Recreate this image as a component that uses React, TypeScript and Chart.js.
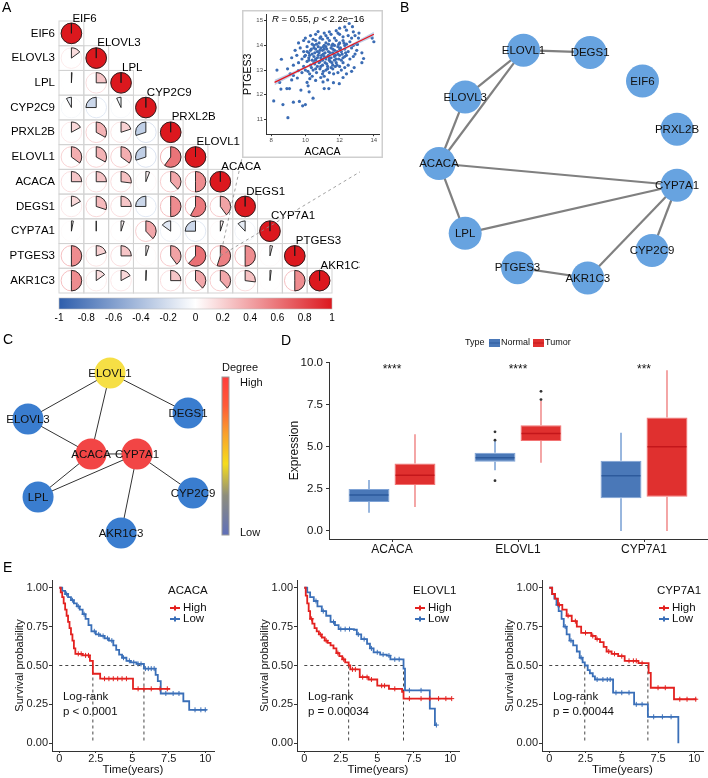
import React, { useEffect, useRef } from "react";
import { Chart, registerables } from "chart.js";

Chart.register(...registerables);
const FONT = '"Liberation Sans", Arial, Helvetica, sans-serif';
Chart.defaults.font.family = FONT;
Chart.defaults.color = "#000";

/* ================= Panel A : correlation pies ================= */
const corrGenes = ["EIF6", "ELOVL3", "LPL", "CYP2C9", "PRXL2B", "ELOVL1", "ACACA", "DEGS1", "CYP7A1", "PTGES3", "AKR1C3"];
const corrRows: number[][] = [
  [1],
  [0.15, 1],
  [0.01, 0.25, 1],
  [-0.08, -0.25, -0.07, 1],
  [0.17, 0.33, 0.2, -0.3, 1],
  [0.35, 0.33, 0.35, -0.3, 0.6, 1],
  [0.25, 0.25, 0.27, 0.06, 0.38, 0.5, 1],
  [0.17, 0.3, 0.25, -0.25, 0.5, 0.58, 0.4, 1],
  [0.03, 0.0, 0.05, 0.38, -0.15, -0.25, 0.05, -0.12, 1],
  [0.5, 0.2, 0.25, 0.05, 0.4, 0.62, 0.55, 0.5, 0.04, 1],
  [0.5, 0.15, 0.17, 0.01, 0.25, 0.38, 0.38, 0.27, 0.02, 0.5, 1],
];
const colorbarTicks = [-1, -0.8, -0.6, -0.4, -0.2, 0, 0.2, 0.4, 0.6, 0.8, 1];
const insetCell = [6, 9]; // ACACA column, PTGES3 row

/* inset scatter ACACA vs PTGES3 */
const scatterPoints: [number, number][] = [
  [11.4, 14.55], [11.8, 14.6], [12.0, 14.7], [12.3, 14.75], [12.56, 14.89], [12.75, 14.76], [12.4, 14.62], [11.1, 14.5], [12.8, 14.55], [10.74, 14.56],
  [10.3, 14.4], [10.6, 14.45], [10.9, 14.35], [11.2, 14.4], [11.5, 14.45], [11.7, 14.3], [12.0, 14.45], [12.2, 14.35], [12.5, 14.4], [12.7, 14.3], [10.0, 14.3], [11.3, 14.3], [11.9, 14.5], [12.9, 14.4], [13.1, 14.3], [13.13, 14.5],
  [9.6, 14.1], [9.9, 14.2], [10.2, 14.15], [10.4, 14.05], [10.6, 14.2], [10.8, 14.1], [11.0, 14.25], [11.2, 14.1], [11.4, 14.2], [11.6, 14.05], [11.8, 14.2], [12.0, 14.1], [12.2, 14.2], [12.4, 14.05], [12.6, 14.15], [12.8, 14.0], [13.0, 14.05], [10.5, 14.0], [11.1, 14.0], [11.7, 14.0], [12.3, 14.0], [14.0, 14.15], [13.9, 14.3], [13.04, 14.04],
  [9.4, 13.8], [9.7, 13.9], [9.9, 13.75], [10.1, 13.95], [10.3, 13.8], [10.5, 13.9], [10.7, 13.75], [10.9, 13.9], [11.0, 13.8], [11.2, 13.95], [11.35, 13.75], [11.5, 13.9], [11.7, 13.8], [11.9, 13.95], [12.1, 13.75], [12.3, 13.85], [12.5, 13.75], [12.7, 13.9], [13.0, 13.8], [13.3, 13.7], [10.2, 13.7], [10.8, 13.7], [11.6, 13.7], [12.0, 13.85], [11.1, 13.85], [10.6, 13.85], [12.9, 13.65],
  [9.2, 13.5], [9.5, 13.6], [9.8, 13.45], [10.0, 13.6], [10.2, 13.5], [10.4, 13.65], [10.6, 13.45], [10.75, 13.6], [10.9, 13.5], [11.05, 13.65], [11.2, 13.45], [11.35, 13.6], [11.5, 13.5], [11.65, 13.65], [11.8, 13.45], [12.0, 13.6], [12.2, 13.5], [12.4, 13.6], [12.6, 13.45], [12.8, 13.55], [13.4, 13.47], [8.6, 13.44], [10.5, 13.55], [11.0, 13.4], [11.4, 13.4], [11.9, 13.65],
  [9.3, 13.2], [9.6, 13.3], [9.9, 13.15], [10.1, 13.35], [10.3, 13.2], [10.5, 13.3], [10.7, 13.15], [10.85, 13.35], [11.0, 13.2], [11.15, 13.3], [11.3, 13.15], [11.45, 13.35], [11.6, 13.2], [11.8, 13.3], [12.0, 13.15], [12.2, 13.3], [12.5, 13.2], [12.85, 13.1], [13.3, 13.3], [8.34, 13.0], [8.96, 13.05], [10.6, 13.4], [11.7, 13.4], [10.2, 13.4],
  [9.11, 12.85], [9.3, 12.78], [9.59, 12.98], [9.8, 12.9], [10.0, 13.0], [10.25, 12.85], [10.45, 13.0], [10.65, 12.9], [10.85, 13.05], [11.0, 12.85], [11.2, 13.0], [11.4, 12.9], [11.6, 13.05], [11.9, 12.9], [12.1, 13.0], [12.4, 12.85], [9.53, 12.68], [10.4, 12.75], [11.1, 12.75], [12.7, 12.95],
  [8.5, 12.5], [9.2, 12.6], [10.26, 12.65], [10.6, 12.58], [10.9, 12.7], [11.03, 12.52], [11.64, 12.49], [11.98, 12.45], [10.1, 12.5], [11.3, 12.6], [12.2, 12.7],
  [8.57, 12.23], [8.92, 12.25], [9.07, 12.25], [9.74, 12.19], [10.16, 12.36], [10.22, 12.12], [10.45, 11.86], [11.1, 12.25], [11.37, 12.25],
  [8.15, 11.75], [8.69, 11.6], [8.98, 11.07], [9.3, 11.7], [9.84, 11.55], [10.0, 11.6], [9.65, 11.73],
  [10.35, 13.85], [10.55, 13.7], [10.65, 14.05], [10.75, 13.95], [10.85, 13.8], [10.95, 13.6], [11.05, 13.95], [11.15, 13.7], [11.25, 13.85], [11.3, 13.55], [11.45, 13.7], [11.55, 14.0], [11.6, 13.85], [11.75, 13.6], [11.85, 13.75], [11.95, 14.05], [12.05, 13.9], [12.15, 13.65], [12.25, 14.1], [12.35, 13.7],
  [10.4, 13.4], [10.55, 13.25], [10.7, 13.5], [10.8, 13.3], [10.95, 13.45], [11.1, 13.55], [11.25, 13.25], [11.4, 13.5], [11.55, 13.3], [11.7, 13.55], [11.85, 13.2], [11.95, 13.45], [12.1, 13.4], [12.3, 13.55], [10.25, 13.6], [10.1, 13.75], [9.95, 13.55], [10.45, 14.25], [10.85, 14.3], [11.35, 14.05],
  [10.6, 13.05], [10.9, 13.15], [11.3, 13.05], [11.5, 13.1], [11.75, 13.15], [10.35, 13.1], [10.15, 12.95], [11.05, 12.95], [11.65, 12.85], [12.3, 13.1],
];
const fitX = [8.2, 14.0];
const fitY = [12.5, 14.45];
const bandX = [8.2, 9.6, 11.0, 12.5, 14.0];
const bandUpperY = [12.61, 13.03, 13.475, 13.99, 14.55];
const bandLowerY = [12.39, 12.91, 13.405, 13.89, 14.35];
const insetXTicks = [8, 10, 12, 14];
const insetYTicks = [11, 12, 13, 14, 15];

/* ================= Panel B : network ================= */
const netBNames = ["ELOVL1", "DEGS1", "EIF6", "PRXL2B", "CYP7A1", "CYP2C9", "AKR1C3", "PTGES3", "LPL", "ACACA", "ELOVL3"];
const netBX = [-0.29, 0.27, 0.71, 1.0, 1.0, 0.79, 0.25, -0.34, -0.78, -1.0, -0.78];
const netBY = [0.99, 0.97, 0.72, 0.3, -0.19, -0.76, -1.0, -0.91, -0.61, 0.0, 0.58];
const netBEdges: [string, string][] = [
  ["ELOVL1", "DEGS1"], ["ELOVL1", "ELOVL3"], ["ELOVL1", "ACACA"], ["ELOVL3", "ACACA"], ["ACACA", "LPL"],
  ["ACACA", "CYP7A1"], ["LPL", "CYP7A1"], ["CYP7A1", "CYP2C9"], ["CYP7A1", "AKR1C3"], ["PTGES3", "AKR1C3"],
];

/* ================= Panel C : hub network ================= */
const netCNames = ["ELOVL1", "ELOVL3", "DEGS1", "ACACA", "CYP7A1", "LPL", "CYP2C9", "AKR1C3"];
const netCX = [49.7, 0, 97, 38.2, 66.1, 6.1, 100, 56.4];
const netCY = [100, 71.25, 75, 49.4, 49.4, 22.5, 25, 0];
const netCColors = ["#f6df45", "#3a7dcf", "#3a7dcf", "#f24545", "#f24545", "#3a7dcf", "#3a7dcf", "#3a7dcf"];
const netCEdges: [string, string][] = [
  ["ELOVL1", "ELOVL3"], ["ELOVL1", "DEGS1"], ["ELOVL1", "ACACA"], ["ELOVL3", "ACACA"], ["ACACA", "CYP7A1"],
  ["ACACA", "LPL"], ["CYP7A1", "LPL"], ["CYP7A1", "CYP2C9"], ["CYP7A1", "AKR1C3"],
];

/* ================= Panel D : boxplot ================= */
const boxGenes = ["ACACA", "ELOVL1", "CYP7A1"];
const normalMin = [1.07, 3.6, 0.0];
const normalQ1 = [1.72, 4.1, 1.93];
const normalMed = [2.13, 4.34, 3.27];
const normalQ3 = [2.48, 4.63, 4.16];
const normalMax = [3.02, 5.38, 5.82];
const normalOutliers = [[], [5.88, 5.38, 2.98], []];
const tumorMin = [1.42, 4.04, 0.0];
const tumorQ1 = [2.72, 5.34, 2.03];
const tumorMed = [3.3, 5.78, 4.99];
const tumorQ3 = [4.0, 6.27, 6.73];
const tumorMax = [5.74, 7.71, 9.53];
const tumorOutliers = [[], [8.28, 7.79], []];
const signifLabels = ["****", "****", "***"];
const exprTicks = [0, 2.5, 5, 7.5, 10];

/* ================= Panel E : Kaplan-Meier ================= */
const kmGenes = ["ACACA", "ELOVL1", "CYP7A1"];
const kmPValues = ["p < 0.0001", "p = 0.00034", "p = 0.00044"];
const timeTicks = [0, 2.5, 5, 7.5, 10];
const survTicks = [0, 0.25, 0.5, 0.75, 1];

const acacaHighT = [0, 0.1, 0.2, 0.3, 0.4, 0.5, 0.6, 0.7, 0.8, 0.9, 1.0, 1.1, 1.6, 2.1, 2.3, 2.8, 5.05, 7.6];
const acacaHighS = [1, 0.97, 0.94, 0.9, 0.86, 0.82, 0.78, 0.74, 0.7, 0.66, 0.61, 0.575, 0.565, 0.53, 0.447, 0.415, 0.35, 0.35];
const acacaLowT = [0, 0.2, 0.4, 0.6, 0.8, 1.0, 1.2, 1.4, 1.6, 1.8, 2.0, 2.2, 2.5, 2.8, 3.1, 3.4, 3.7, 3.9, 4.1, 4.3, 4.6, 4.9, 5.3, 5.8, 6.6, 6.75, 6.95, 8.5, 8.9, 10.1];
const acacaLowS = [1, 0.98, 0.96, 0.94, 0.92, 0.9, 0.88, 0.86, 0.83, 0.8, 0.76, 0.72, 0.7, 0.69, 0.675, 0.66, 0.63, 0.6, 0.57, 0.55, 0.53, 0.52, 0.51, 0.48, 0.44, 0.4, 0.32, 0.27, 0.215, 0.215];
const acacaHighCens = [1.3, 1.5, 1.8, 2.0, 3.1, 3.4, 3.7, 4.0, 4.3, 4.6, 5.4, 5.8, 6.3, 6.9, 7.4];
const acacaLowCens = [0.5, 0.9, 1.3, 1.7, 2.4, 2.7, 3.0, 3.3, 3.6, 4.4, 4.8, 5.1, 5.4, 5.6, 5.9, 6.1, 6.3, 6.5, 7.3, 7.8, 8.2, 9.3, 9.7, 10.0];

const elovl1HighT = [0, 0.1, 0.2, 0.3, 0.4, 0.55, 0.7, 0.85, 1.0, 1.2, 1.4, 1.6, 1.8, 2.0, 2.2, 2.4, 2.6, 2.8, 3.04, 3.15, 3.8, 4.4, 5.0, 5.8, 6.7, 6.8, 10.1];
const elovl1HighS = [1, 0.95, 0.9, 0.85, 0.8, 0.77, 0.74, 0.72, 0.7, 0.68, 0.66, 0.645, 0.63, 0.61, 0.58, 0.56, 0.54, 0.52, 0.5, 0.475, 0.425, 0.41, 0.37, 0.35, 0.33, 0.287, 0.287];
const elovl1LowT = [0, 0.2, 0.4, 0.65, 0.9, 1.2, 1.5, 1.8, 2.1, 2.35, 3.4, 3.6, 3.9, 4.3, 4.5, 4.75, 5.2, 5.65, 5.9, 6.8, 6.9, 8.6, 8.95, 9.05];
const elovl1LowS = [1, 0.97, 0.94, 0.915, 0.88, 0.85, 0.82, 0.78, 0.76, 0.734, 0.73, 0.7, 0.67, 0.64, 0.61, 0.585, 0.57, 0.564, 0.54, 0.48, 0.34, 0.223, 0.117, 0.117];
const elovl1HighCens = [0.5, 1.1, 1.5, 2.3, 2.7, 3.3, 3.5, 4.0, 4.3, 4.6, 5.3, 5.5, 6.2, 7.2, 8.0, 8.6, 9.2, 9.7, 10.1];
const elovl1LowCens = [0.8, 1.3, 2.0, 2.5, 2.8, 3.1, 3.7, 4.1, 4.6, 5.0, 5.4, 5.8, 6.2, 6.5, 7.2, 8.0, 9.05];

const cypHighT = [0, 0.2, 0.4, 0.6, 0.9, 1.2, 1.55, 1.9, 2.2, 2.9, 3.2, 3.5, 3.75, 3.95, 4.3, 4.75, 5.2, 6.15, 6.85, 7.0, 8.6, 10.15];
const cypHighS = [1, 0.96, 0.93, 0.89, 0.86, 0.82, 0.785, 0.75, 0.71, 0.69, 0.67, 0.65, 0.62, 0.59, 0.575, 0.56, 0.53, 0.515, 0.453, 0.357, 0.283, 0.283];
const cypLowT = [0, 0.2, 0.35, 0.5, 0.65, 0.85, 1.0, 1.2, 1.4, 1.65, 1.9, 2.1, 2.3, 2.45, 2.65, 2.8, 3.0, 3.15, 4.4, 5.85, 6.8, 8.9];
const cypLowS = [1, 0.96, 0.93, 0.89, 0.85, 0.8, 0.75, 0.7, 0.66, 0.63, 0.59, 0.55, 0.52, 0.5, 0.47, 0.45, 0.43, 0.41, 0.325, 0.25, 0.17, 0];
const cypHighCens = [0.7, 1.3, 1.8, 2.5, 3.0, 3.3, 4.1, 4.5, 5.0, 5.5, 5.8, 6.0, 6.4, 7.5, 8.0, 9.0, 9.5, 10.1];
const cypLowCens = [0.6, 1.1, 1.5, 2.2, 3.3, 3.7, 4.0, 4.2, 4.6, 5.0, 5.5, 6.0, 6.4, 7.2, 7.8, 8.4];

const kmMedianHigh = [2.3, 3.04, 6.8];
const kmMedianLow = [5.8, 6.8, 2.45];

/* ================= helpers ================= */
const RED = "#e3211f";
const BLUE = "#3a6fb8";
const common: any = {
  responsive: false,
  animation: false,
  devicePixelRatio: 1,
  events: [],
  plugins: { legend: { display: false }, tooltip: { enabled: false } },
};
const pts = (xs: number[], ys: number[]) => xs.map((x, i) => ({ x, y: ys[i] }));
const stepAt = (T: number[], S: number[], t: number) => {
  let s = S[0];
  for (let i = 0; i < T.length; i++) if (T[i] <= t) s = S[i];
  return s;
};
const fixedTicks = (vals: number[]) => (s: any) => {
  s.ticks = vals.map((v) => ({ value: v }));
};

function corrColor(v: number) {
  const t = Math.min(1, Math.abs(v));
  const end = v >= 0 ? [220, 24, 30] : [46, 94, 172];
  const c = end.map((e) => Math.round(255 + (e - 255) * t));
  return `rgb(${c[0]},${c[1]},${c[2]})`;
}

const INSET = { left: 242, top: 10, w: 141, h: 148 };

function makeMatrix(): any {
  const cells: any[] = [];
  corrRows.forEach((row, i) => row.forEach((v, j) => cells.push({ x: j + 0.5, y: i + 0.5, v })));
  const plugin = {
    id: "corrPies",
    afterDatasetsDraw(chart: any) {
      const { ctx, scales, chartArea } = chart;
      const xs = scales.x, ys = scales.y;
      ctx.save();
      ctx.strokeStyle = "#d3d3d3";
      ctx.lineWidth = 1;
      corrRows.forEach((row, i) =>
        row.forEach((_, j) => {
          const x0 = xs.getPixelForValue(j), x1 = xs.getPixelForValue(j + 1);
          const y0 = ys.getPixelForValue(i), y1 = ys.getPixelForValue(i + 1);
          ctx.strokeRect(x0, y0, x1 - x0, y1 - y0);
        })
      );
      const cw = xs.getPixelForValue(1) - xs.getPixelForValue(0);
      const R = cw * 0.415;
      const meta = chart.getDatasetMeta(0);
      meta.data.forEach((el: any, k: number) => {
        const v = cells[k].v;
        const cx = el.x, cy = el.y;
        ctx.beginPath();
        ctx.arc(cx, cy, R, 0, Math.PI * 2);
        ctx.strokeStyle = corrColor(v * 0.55);
        ctx.lineWidth = 1;
        ctx.stroke();
        const start = -Math.PI / 2;
        const end = start + 2 * Math.PI * v;
        ctx.beginPath();
        ctx.moveTo(cx, cy);
        ctx.lineTo(cx, cy - R);
        ctx.arc(cx, cy, R, start, end, v < 0);
        ctx.closePath();
        ctx.fillStyle = corrColor(v);
        ctx.fill();
        ctx.strokeStyle = "#1a1a1a";
        ctx.lineWidth = 0.9;
        ctx.stroke();
      });
      // diagonal labels
      ctx.fillStyle = "#000";
      ctx.font = `11.5px ${FONT}`;
      ctx.textAlign = "left";
      ctx.textBaseline = "alphabetic";
      corrGenes.forEach((g, i) => {
        ctx.fillText(g, xs.getPixelForValue(i + 0.5) + 1, ys.getPixelForValue(i) + 0.5);
      });
      // colour bar
      const cbTop = chartArea.bottom + 5, cbH = 11;
      const grad = ctx.createLinearGradient(chartArea.left, 0, chartArea.right, 0);
      grad.addColorStop(0, corrColor(-1));
      grad.addColorStop(0.25, corrColor(-0.5));
      grad.addColorStop(0.5, "#ffffff");
      grad.addColorStop(0.75, corrColor(0.5));
      grad.addColorStop(1, corrColor(1));
      ctx.fillStyle = grad;
      ctx.fillRect(chartArea.left, cbTop, chartArea.right - chartArea.left, cbH);
      ctx.strokeStyle = "#bdbdbd";
      ctx.lineWidth = 0.6;
      ctx.strokeRect(chartArea.left, cbTop, chartArea.right - chartArea.left, cbH);
      ctx.fillStyle = "#000";
      ctx.font = `10px ${FONT}`;
      ctx.textAlign = "center";
      ctx.textBaseline = "middle";
      colorbarTicks.forEach((t) => {
        const px = chartArea.left + ((t + 1) / 2) * (chartArea.right - chartArea.left);
        ctx.fillText(String(t), px, cbTop + cbH + 9);
      });
      // dashed connectors to inset
      const cx = xs.getPixelForValue(insetCell[0] + 0.5), cy = ys.getPixelForValue(insetCell[1] + 0.5);
      ctx.strokeStyle = "#8a8a8a";
      ctx.lineWidth = 0.8;
      ctx.setLineDash([3, 3]);
      ctx.beginPath();
      ctx.moveTo(cx, cy);
      ctx.lineTo(INSET.left, INSET.top + INSET.h);
      ctx.moveTo(cx, cy);
      ctx.lineTo(INSET.left + INSET.w, INSET.top + INSET.h);
      ctx.stroke();
      ctx.restore();
    },
  };
  return {
    type: "scatter",
    data: { datasets: [{ data: cells, pointRadius: 0 }] },
    options: {
      ...common,
      layout: { padding: { left: 0, right: 28, top: 21, bottom: 37 } },
      scales: {
        x: { type: "linear", min: 0, max: 11, display: false },
        y: {
          type: "linear", min: 0, max: 11, reverse: true,
          grid: { display: false, drawTicks: false },
          border: { display: false },
          afterBuildTicks: (s: any) => { s.ticks = corrGenes.map((_, i) => ({ value: i + 0.5 })); },
          afterFit: (s: any) => { s.width = 59; },
          ticks: { autoSkip: false, padding: 4, font: { size: 11.5 }, color: "#000", callback: (v: any) => corrGenes[Math.round(Number(v) - 0.5)] },
        },
      },
    },
    plugins: [plugin],
  };
}

function makeInset(): any {
  const plugin = {
    id: "insetDeco",
    beforeDraw(chart: any) {
      const { ctx, width, height } = chart;
      ctx.save();
      ctx.fillStyle = "#fff";
      ctx.fillRect(0, 0, width, height);
      ctx.strokeStyle = "#cfcfcf";
      ctx.lineWidth = 1.5;
      ctx.strokeRect(0.75, 0.75, width - 1.5, height - 1.5);
      ctx.restore();
    },
    afterDraw(chart: any) {
      const { ctx } = chart;
      ctx.save();
      ctx.fillStyle = "#000";
      ctx.textBaseline = "middle";
      let x0 = 30;
      const parts: [string, boolean][] = [["R", true], [" = 0.55, ", false], ["p", true], [" < 2.2e\u221216", false]];
      parts.forEach(([t, it]) => {
        ctx.font = `${it ? "italic " : ""}9.5px ${FONT}`;
        ctx.fillText(t, x0, 9);
        x0 += ctx.measureText(t).width;
      });
      ctx.restore();
    },
  };
  const axis = (min: number, max: number, ticks: number[], title: string, extra: any = {}) => ({
    type: "linear", min, max,
    afterBuildTicks: fixedTicks(ticks),
    grid: { display: true, drawOnChartArea: false, tickLength: 2, color: "#333" },
    border: { color: "#333", width: 1 },
    ticks: { font: { size: 6 }, color: "#4d4d4d", padding: 1, callback: (v: any) => String(v) },
    title: { display: true, text: title, font: { size: 10.5 }, padding: 0, color: "#000" },
    ...extra,
  });
  return {
    type: "scatter",
    data: {
      datasets: [
        { type: "line", data: pts(fitX, fitY), borderColor: "#e8131b", borderWidth: 1.2, pointRadius: 0, order: 0 },
        { type: "line", data: pts(bandX, bandUpperY), borderWidth: 0, borderColor: "rgba(0,0,0,0)", pointRadius: 0, fill: false, order: 1 },
        { type: "line", data: pts(bandX, bandLowerY), borderWidth: 0, borderColor: "rgba(0,0,0,0)", pointRadius: 0, fill: "-1", backgroundColor: "rgba(140,165,210,0.55)", order: 1 },
        { data: scatterPoints.map(([x, y]) => ({ x, y })), pointRadius: 1.6, backgroundColor: "#3b6cb4", borderWidth: 0, order: 2 },
      ],
    },
    options: {
      ...common,
      layout: { padding: { left: 0, right: 3, top: 4, bottom: 0 } },
      scales: {
        x: axis(7.7, 14.3, insetXTicks, "ACACA"),
        y: axis(10.4, 15.25, insetYTicks, "PTGES3", { afterFit: (s: any) => { s.width = 24; } }),
      },
    },
    plugins: [plugin],
  };
}

function makeNetwork(names: string[], xs: number[], ys: number[], edges: [string, string][], colors: any, radius: number,
  edgeColor: string, edgeWidth: number, fontSize: number, range: [number, number], padding: any, extra?: any): any {
  const node = (n: string) => { const i = names.indexOf(n); return { x: xs[i], y: ys[i] }; };
  const labelPlugin = {
    id: "nodeLabels",
    afterDatasetsDraw(chart: any) {
      const { ctx } = chart;
      const meta = chart.getDatasetMeta(0);
      ctx.save();
      ctx.fillStyle = "#111";
      ctx.font = `${fontSize}px ${FONT}`;
      ctx.textAlign = "center";
      ctx.textBaseline = "middle";
      meta.data.forEach((el: any, i: number) => ctx.fillText(names[i], el.x, el.y + 0.5));
      ctx.restore();
    },
  };
  return {
    type: "scatter",
    data: {
      datasets: [
        { data: names.map((n) => node(n)), pointRadius: radius, backgroundColor: colors, borderWidth: 0, order: 0, clip: false },
        ...edges.map(([a, b]) => ({
          type: "line", data: [node(a), node(b)], borderColor: edgeColor, borderWidth: edgeWidth, pointRadius: 0, order: 1, clip: false,
        })),
      ],
    },
    options: {
      ...common,
      layout: { padding },
      scales: {
        x: { type: "linear", min: range[0], max: range[1], display: false },
        y: { type: "linear", min: range[0], max: range[1], display: false },
      },
    },
    plugins: extra ? [labelPlugin, extra] : [labelPlugin],
  };
}

const degreeBar = {
  id: "degreeBar",
  afterDraw(chart: any) {
    const { ctx } = chart;
    const x = 222, y0 = 47, w = 7, h = 158;
    ctx.save();
    const g = ctx.createLinearGradient(0, y0, 0, y0 + h);
    g.addColorStop(0, "#ff3d3d");
    g.addColorStop(0.18, "#ff5a38");
    g.addColorStop(0.36, "#f9a12c");
    g.addColorStop(0.55, "#f5dc1c");
    g.addColorStop(0.75, "#8e8d7c");
    g.addColorStop(1, "#5f6fba");
    ctx.fillStyle = g;
    ctx.fillRect(x, y0, w, h);
    ctx.strokeStyle = "#9a9a9a";
    ctx.lineWidth = 1;
    ctx.strokeRect(x, y0, w, h);
    ctx.fillStyle = "#111";
    ctx.font = `11px ${FONT}`;
    ctx.textBaseline = "middle";
    ctx.textAlign = "left";
    ctx.fillText("Degree", 222, 38);
    ctx.fillText("High", 240, 53);
    ctx.fillText("Low", 240, 203);
    ctx.restore();
  },
};

function makeBox(): any {
  const stats = [
    { min: normalMin, med: normalMed, max: normalMax, out: normalOutliers, whisker: "#6d98d0", median: "#2d5a9c" },
    { min: tumorMin, med: tumorMed, max: tumorMax, out: tumorOutliers, whisker: "#ef8080", median: "#c4161b" },
  ];
  const q1s = [normalQ1, tumorQ1], q3s = [normalQ3, tumorQ3];
  const plugin = {
    id: "boxParts",
    afterDatasetsDraw(chart: any) {
      const { ctx, scales } = chart;
      const ys = scales.y, xs = scales.x;
      ctx.save();
      stats.forEach((st, di) => {
        const meta = chart.getDatasetMeta(di);
        meta.data.forEach((bar: any, i: number) => {
          const cx = bar.x, w = bar.width;
          ctx.strokeStyle = st.whisker;
          ctx.lineWidth = 1.4;
          ctx.beginPath();
          ctx.moveTo(cx, ys.getPixelForValue(st.max[i]));
          ctx.lineTo(cx, ys.getPixelForValue(q3s[di][i]));
          ctx.moveTo(cx, ys.getPixelForValue(q1s[di][i]));
          ctx.lineTo(cx, ys.getPixelForValue(st.min[i]));
          ctx.stroke();
          ctx.strokeStyle = st.median;
          ctx.lineWidth = 1.6;
          ctx.beginPath();
          ctx.moveTo(cx - w / 2 + 1, ys.getPixelForValue(st.med[i]));
          ctx.lineTo(cx + w / 2 - 1, ys.getPixelForValue(st.med[i]));
          ctx.stroke();
          ctx.fillStyle = "#333";
          st.out[i].forEach((o: number) => {
            ctx.beginPath();
            ctx.arc(cx, ys.getPixelForValue(o), 1.4, 0, Math.PI * 2);
            ctx.fill();
          });
        });
      });
      // significance stars
      ctx.fillStyle = "#111";
      ctx.font = `12px ${FONT}`;
      ctx.textAlign = "center";
      ctx.textBaseline = "middle";
      signifLabels.forEach((s, i) => ctx.fillText(s, xs.getPixelForValue(i), ys.getPixelForValue(9.55)));
      // legend
      ctx.font = `9px ${FONT}`;
      ctx.textAlign = "left";
      ctx.fillText("Type", 195, 13);
      const key = (x: number, fill: string, med: string, label: string) => {
        ctx.fillStyle = fill;
        ctx.fillRect(x, 9, 11, 8);
        ctx.strokeStyle = med;
        ctx.lineWidth = 1;
        ctx.beginPath();
        ctx.moveTo(x, 13);
        ctx.lineTo(x + 11, 13);
        ctx.stroke();
        ctx.fillStyle = "#111";
        ctx.fillText(label, x + 12, 13);
      };
      key(219, "#4a78b8", "#2d5a9c", "Normal");
      key(263, "#e0302f", "#c4161b", "Tumor");
      ctx.restore();
    },
  };
  return {
    type: "bar",
    data: {
      labels: boxGenes,
      datasets: [
        { label: "Normal", data: normalQ1.map((q, i) => [q, normalQ3[i]]), backgroundColor: "#4a78b8", borderColor: "#7fa3d6", borderWidth: 1, borderSkipped: false, categoryPercentage: 0.73, barPercentage: 0.89 },
        { label: "Tumor", data: tumorQ1.map((q, i) => [q, tumorQ3[i]]), backgroundColor: "#e0302f", borderColor: "#f27474", borderWidth: 1, borderSkipped: false, categoryPercentage: 0.73, barPercentage: 0.89 },
      ],
    },
    options: {
      ...common,
      layout: { padding: { left: 0, right: 1, top: 32, bottom: 0 } },
      scales: {
        x: {
          grid: { display: true, drawOnChartArea: false, offset: false, tickLength: 3, color: "#333" },
          border: { color: "#333", width: 1 },
          ticks: { font: { size: 12 }, color: "#111", padding: 0 },
          afterFit: (s: any) => { s.height = 51; },
        },
        y: {
          type: "linear", min: -0.48, max: 10.02,
          afterBuildTicks: fixedTicks(exprTicks),
          grid: { display: true, drawOnChartArea: false, tickLength: 3, color: "#333" },
          border: { color: "#333", width: 1 },
          ticks: { font: { size: 11.5 }, color: "#111", padding: 3, callback: (v: any) => Number(v).toFixed(1) },
          title: { display: true, text: "Expression", font: { size: 12 }, color: "#111", padding: { top: 17, bottom: 0 } },
          afterFit: (s: any) => { s.width = 59; },
        },
      },
    },
    plugins: [plugin],
  };
}

function makeKM(k: number, hT: number[], hS: number[], lT: number[], lS: number[], hC: number[], lC: number[], padLeft: number, padRight: number): any {
  const mh = kmMedianHigh[k], ml = kmMedianLow[k];
  const mmax = Math.max(mh, ml);
  const dash = (data: any[]) => ({ data, borderColor: "#333", borderWidth: 0.9, borderDash: [3, 3], pointRadius: 0, order: 3 });
  const plugin = {
    id: "kmDeco",
    afterDraw(chart: any) {
      const { ctx, chartArea: ca, scales } = chart;
      ctx.save();
      ctx.textBaseline = "middle";
      ctx.textAlign = "left";
      ctx.fillStyle = "#111";
      ctx.font = `11.5px ${FONT}`;
      const lx = ca.right - 46;
      ctx.fillText(kmGenes[k], lx, 21);
      const row = (y: number, col: string, label: string) => {
        ctx.strokeStyle = col;
        ctx.lineWidth = 2;
        ctx.beginPath();
        ctx.moveTo(lx + 2, y);
        ctx.lineTo(lx + 12, y);
        ctx.moveTo(lx + 7, y - 2.5);
        ctx.lineTo(lx + 7, y + 2.5);
        ctx.stroke();
        ctx.fillStyle = "#111";
        ctx.fillText(label, lx + 15, y);
      };
      row(38, RED, "High");
      row(49, BLUE, "Low");
      ctx.font = `11.5px ${FONT}`;
      const px = scales.x.getPixelForValue(0.25);
      ctx.fillText("Log-rank", px, scales.y.getPixelForValue(0.3));
      ctx.fillText(kmPValues[k], px, scales.y.getPixelForValue(0.2));
      ctx.restore();
    },
  };
  return {
    type: "line",
    data: {
      datasets: [
        { data: pts(hT, hS), stepped: true, borderColor: RED, borderWidth: 1.8, pointRadius: 0, order: 1 },
        { data: pts(lT, lS), stepped: true, borderColor: BLUE, borderWidth: 1.8, pointRadius: 0, order: 2 },
        { type: "scatter", data: hC.map((t) => ({ x: t, y: stepAt(hT, hS, t) })), pointStyle: "cross", pointRadius: 2.5, borderColor: RED, borderWidth: 1, order: 1 },
        { type: "scatter", data: lC.map((t) => ({ x: t, y: stepAt(lT, lS, t) })), pointStyle: "cross", pointRadius: 2.5, borderColor: BLUE, borderWidth: 1, order: 2 },
        dash([{ x: 0, y: 0.5 }, { x: mmax, y: 0.5 }]),
        dash([{ x: mh, y: 0.5 }, { x: mh, y: 0 }]),
        dash([{ x: ml, y: 0.5 }, { x: ml, y: 0 }]),
      ],
    },
    options: {
      ...common,
      layout: { padding: { left: padLeft, right: padRight, top: 10, bottom: 0 } },
      scales: {
        x: {
          type: "linear", min: -0.5, max: 10.6,
          afterBuildTicks: fixedTicks(timeTicks),
          grid: { display: true, drawOnChartArea: false, tickLength: 2, color: "#333" },
          border: { color: "#333", width: 1 },
          ticks: { font: { size: 11 }, color: "#1a1a1a", padding: -1, callback: (v: any) => String(v) },
          title: { display: true, text: "Time(years)", font: { size: 11.5 }, color: "#111", padding: { top: 0, bottom: 1 } },
          afterFit: (s: any) => { s.height = 27; },
        },
        y: {
          type: "linear", min: -0.05, max: 1.05,
          afterBuildTicks: fixedTicks(survTicks),
          grid: { display: true, drawOnChartArea: false, tickLength: 3, color: "#333" },
          border: { color: "#333", width: 1 },
          ticks: { font: { size: 11 }, color: "#1a1a1a", padding: 1, callback: (v: any) => Number(v).toFixed(2) },
          title: { display: true, text: "Survival probability", font: { size: 11 }, color: "#111", padding: { top: 0, bottom: 0 } },
          afterFit: (s: any) => { s.width = 39; },
        },
      },
    },
    plugins: [plugin],
  };
}

/* ================= components ================= */
function ChartCanvas({ x, y, w, h, make, z = 1 }: { x: number; y: number; w: number; h: number; make: () => any; z?: number }) {
  const ref = useRef<HTMLCanvasElement>(null);
  useEffect(() => {
    const chart = new Chart(ref.current as HTMLCanvasElement, make());
    return () => chart.destroy();
  }, []);
  return (
    <div style={{ position: "absolute", left: x, top: y, width: w, height: h, zIndex: z }}>
      <canvas ref={ref} width={w} height={h} style={{ display: "block", width: w, height: h }} />
    </div>
  );
}

const letterStyle = (left: number, top: number): React.CSSProperties => ({
  position: "absolute", left, top, fontFamily: FONT, fontSize: 14, lineHeight: "14px", color: "#000", zIndex: 5,
});

export default function App() {
  return (
    <div style={{ position: "absolute", left: 0, top: 0, width: 708, height: 778, background: "#fff", overflow: "hidden" }}>
      <ChartCanvas x={0} y={0} w={360} h={330} make={makeMatrix} z={1} />
      <ChartCanvas x={INSET.left} y={INSET.top} w={INSET.w} h={INSET.h} make={makeInset} z={2} />
      <ChartCanvas x={400} y={0} w={308} h={320} z={1}
        make={() => makeNetwork(netBNames, netBX, netBY, netBEdges, "#67a3e0", 16.5, "#808080", 2.2, 11.5, [-1, 1], { left: 39, right: 31, top: 49, bottom: 42 })} />
      <ChartCanvas x={0} y={330} w={270} h={230} z={1}
        make={() => makeNetwork(netCNames, netCX, netCY, netCEdges, netCColors, 15.5, "#333", 1, 11.5, [0, 100], { left: 28, right: 77, top: 43, bottom: 27 }, degreeBar)} />
      <ChartCanvas x={270} y={330} w={438} h={260} make={makeBox} z={1} />
      <ChartCanvas x={0} y={570} w={236} h={208} make={() => makeKM(0, acacaHighT, acacaHighS, acacaLowT, acacaLowS, acacaHighCens, acacaLowCens, 13, 22)} />
      <ChartCanvas x={236} y={570} w={236} h={208} make={() => makeKM(1, elovl1HighT, elovl1HighS, elovl1LowT, elovl1LowS, elovl1HighCens, elovl1LowCens, 22, 13)} />
      <ChartCanvas x={472} y={570} w={236} h={208} make={() => makeKM(2, cypHighT, cypHighS, cypLowT, cypLowS, cypHighCens, cypLowCens, 31, 5)} />
      <div style={letterStyle(2, 0)}>A</div>
      <div style={letterStyle(400, 0)}>B</div>
      <div style={letterStyle(3, 332)}>C</div>
      <div style={letterStyle(281, 333)}>D</div>
      <div style={letterStyle(3, 560)}>E</div>
    </div>
  );
}
